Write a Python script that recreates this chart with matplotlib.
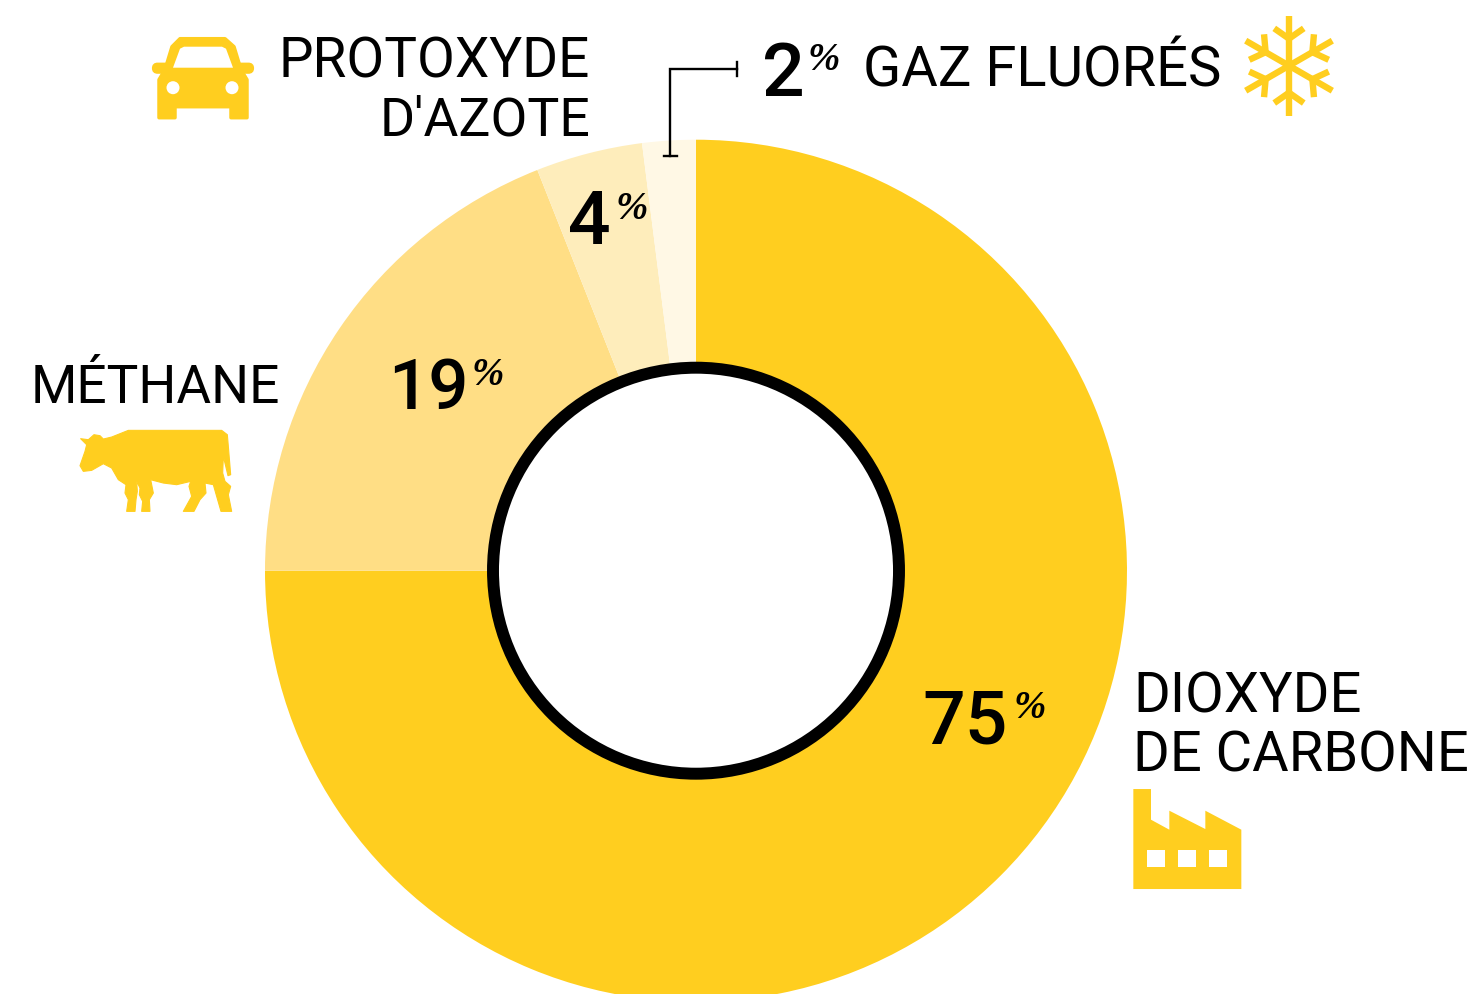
import numpy as np
import matplotlib
matplotlib.use("Agg")
import matplotlib.pyplot as plt
from matplotlib.patches import Polygon, Circle, FancyBboxPatch, Rectangle

W, H = 1479, 995

# Données
gaz = ["DIOXYDE DE CARBONE", "MÉTHANE", "PROTOXYDE D'AZOTE", "GAZ FLUORÉS"]
parts = [75, 19, 4, 2]
couleurs = ["#FFCE1F", "#FFDE85", "#FEEDBB", "#FFF8E5"]

JAUNE = "#FFCE1F"
FONTE = "Roboto"

fig = plt.figure(figsize=(W / 100, H / 100), dpi=100)
ax = fig.add_axes([0, 0, 1, 1])


def Y(y):
    return H - y - 0.7


def pts(liste, ox=0, oy=0, k=1.0):
    # coordonnees pixel -> coordonnees axes
    return [(ox + x * k, Y(oy + y * k)) for x, y in liste]


# Donut
ax.pie(parts, colors=couleurs, startangle=90, counterclock=False,
       center=(696, Y(571)), radius=431, wedgeprops=dict(linewidth=0))
ax.add_patch(Circle((696, Y(571)), 203, facecolor="white", edgecolor="black", linewidth=8.6, zorder=3))
ax.set_xlim(0, W)
ax.set_ylim(0, H)
ax.set_aspect("equal")
ax.axis("off")


def label(x, y, s, ha="left", size=39.5):
    ax.text(x, Y(y), s, ha=ha, va="baseline", fontsize=size, family=FONTE, color="black")


def pourcent(x, y, val, xp, yp, size=54):
    ax.text(x, Y(y), str(val), ha="left", va="baseline", fontsize=size, family=FONTE,
            fontweight="medium", color="black", zorder=5)
    ax.text(xp, Y(yp), "%", ha="left", va="baseline", fontsize=28, family="Liberation Serif",
            fontweight="bold", style="italic", color="black", zorder=5)


# Textes
label(590, 77, "PROTOXYDE", ha="right")
label(590, 135, "D'AZOTE", ha="right", size=38.6)
label(863, 86, "GAZ FLUORÉS", size=40.4)
label(31, 402, "MÉTHANE", size=38.3)
label(1133, 712, "DIOXYDE", size=40.4)
label(1133, 771, "DE CARBONE", size=40.4)

pourcent(922, 743, parts[0], 1014, 717)
pourcent(388, 408, parts[1], 471, 384, size=51)
pourcent(568, 243, parts[2], 615, 218)
pourcent(762, 95, parts[3], 808, 69)

# Trait de rappel 2 %
ax.plot([737, 670, 670], [Y(69), Y(69), Y(156)], color="black", lw=1.7, solid_joinstyle="miter", zorder=4)
ax.plot([737, 737], [Y(62), Y(76)], color="black", lw=1.7, zorder=4)
ax.plot([664, 677], [Y(156), Y(156)], color="black", lw=1.7, zorder=4)

# Voiture
ax.add_patch(Polygon(pts([(180, 39), (225, 39), (234, 47), (241, 70), (247, 80), (247, 118), (231, 118),
                          (231, 107), (175, 107), (175, 118), (159, 118), (159, 80), (165, 70), (172, 47)]),
                     facecolor=JAUNE, edgecolor=JAUNE, lw=2.5, joinstyle="round"))
ax.add_patch(FancyBboxPatch((154, Y(72)), 98, 7, boxstyle="round,pad=0,rounding_size=3.5",
                            facecolor=JAUNE, edgecolor=JAUNE, lw=3))
ax.add_patch(Polygon(pts([(173, 68), (233, 68), (226, 49), (222, 47), (184, 47), (180, 49)]),
                     facecolor="white", edgecolor="none", zorder=3))
ax.add_patch(Circle((173, Y(88)), 6.5, facecolor="white", edgecolor="none", zorder=3))
ax.add_patch(Circle((232, Y(88)), 6.5, facecolor="white", edgecolor="none", zorder=3))

# Vache
vache = [(182, 297), (205, 300), (222, 285), (240, 288), (250, 298), (275, 292), (325, 272), (605, 272),
         (622, 285), (625, 320), (632, 405), (624, 408), (610, 350), (608, 400), (615, 425), (632, 440),
         (625, 465), (635, 515), (603, 515), (590, 470), (580, 435), (555, 430), (558, 460), (540, 480),
         (522, 515), (490, 515), (515, 470), (507, 440), (512, 425), (470, 435), (430, 430), (392, 420),
         (400, 460), (388, 480), (390, 515), (365, 515), (368, 485), (358, 465), (360, 445), (350, 425),
         (352, 455), (348, 480), (345, 515), (320, 515), (325, 480), (315, 460), (318, 435), (295, 420),
         (275, 385), (250, 372), (215, 392), (190, 395), (180, 378), (195, 335), (200, 315)]
ax.add_patch(Polygon(pts(vache, 20, 340, 1 / 3), facecolor=JAUNE, edgecolor=JAUNE, lw=0.8, joinstyle="round"))

# Usine
usine = [(40, 58), (93, 58), (93, 150), (148, 180), (148, 123), (256, 178), (256, 123), (364, 180),
         (364, 358), (40, 358)]
ax.add_patch(Polygon(pts(usine, 1120, 770, 1 / 3), facecolor=JAUNE, edgecolor="none"))
for xf in [1147, 1178, 1209]:
    ax.add_patch(Rectangle((xf, Y(867)), 18, 17, facecolor="white", edgecolor="none", zorder=3))

# Flocon
cx, cy = 1289, 66
for a in np.radians(np.arange(30, 360, 60)):
    ax.plot([cx, cx + 50 * np.cos(a)], [Y(cy), Y(cy) + 50 * np.sin(a)], color=JAUNE, lw=4.6,
            solid_capstyle="butt", zorder=3)
    bx, by = cx + 27 * np.cos(a), Y(cy) + 27 * np.sin(a)
    for d in np.radians([-55, 55]):
        ax.plot([bx, bx + 18 * np.cos(a + d)], [by, by + 18 * np.sin(a + d)], color=JAUNE, lw=4.6,
                solid_capstyle="butt", zorder=3)

fig.savefig("out.png", dpi=100, facecolor="white")
